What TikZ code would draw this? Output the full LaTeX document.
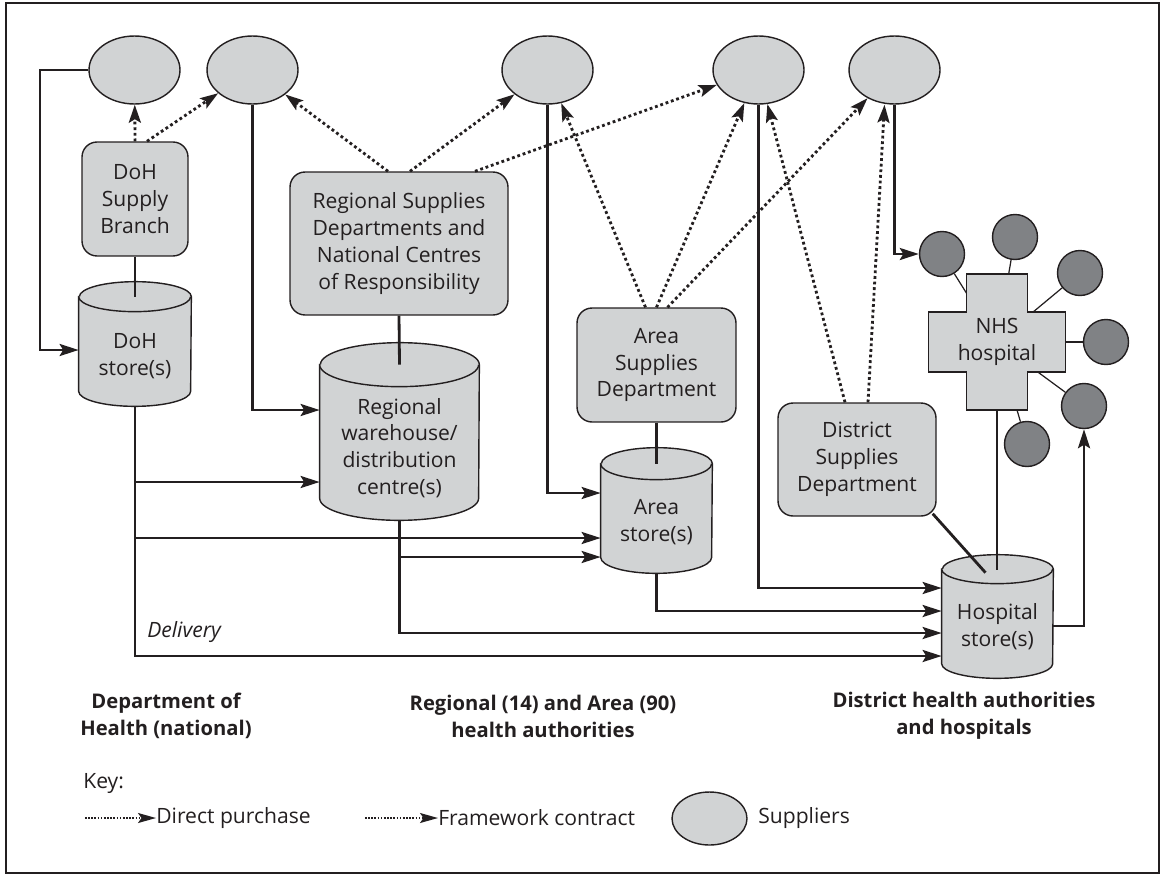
\documentclass[tikz,border=0pt]{standalone}
\usepackage{fontspec}
\setmainfont{Open Sans}
\usetikzlibrary{shapes.geometric,arrows.meta,calc,backgrounds}

\definecolor{ink}{HTML}{231F20}
\definecolor{panel}{HTML}{D1D3D4}
\definecolor{deep}{HTML}{808285}

% drum outline behind a store node: #1 node, #2 half width, #3 cap radius
\newcommand\drum[3]{%
  \filldraw[drumline] ([yshift=-#3]#1.north west) -- ([yshift=#3]#1.south west)
    arc[start angle=180, end angle=360, x radius=#2, y radius=#3]
    -- ([yshift=-#3]#1.north east)
    arc[start angle=0, end angle=180, x radius=#2, y radius=#3] -- cycle;
  \draw[drumline] ([yshift=-#3]#1.north west)
    arc[start angle=180, end angle=360, x radius=#2, y radius=#3];}

\begin{document}
\begin{tikzpicture}[x=0.02cm, y=-0.02cm,
  every node/.style={font=\fontsize{12}{15.3}\selectfont, text=ink, inner sep=0pt},
  box/.style={rounded corners=0.3cm, draw=ink, fill=panel, line width=0.8pt, align=center},
  supplier/.style={ellipse, draw=ink, fill=panel, line width=0.8pt,
    minimum width=1.82cm, minimum height=1.36cm},
  outlet/.style={circle, draw=ink, fill=deep, line width=0.8pt, minimum size=0.9cm},
  store/.style={minimum width=2.22cm, minimum height=2.48cm},
  storetext/.style={align=center, yshift=-0.24cm},
  drumline/.style={draw=ink, fill=panel, line width=0.8pt},
  plate/.style={draw=ink, fill=panel, line width=0.8pt},
  feed/.style={draw=ink, line width=1.6pt, -{Stealth[length=0.38cm, width=0.24cm, inset=0.07cm]}},
  link/.style={draw=ink, line width=1.6pt},
  buy/.style={draw=ink, line width=1.6pt, dash pattern=on 1.6pt off 1.6pt,
    -{Stealth[length=0.36cm, width=0.24cm, inset=0.07cm]}},
  keybuy/.style={draw=ink, line width=0.9pt, dash pattern=on 0.9pt off 0.9pt,
    -{Stealth[length=0.36cm, width=0.2cm, inset=0.07cm]}},
  spoke/.style={draw=ink, line width=0.7pt},
  tier/.style={align=center, font=\fontsize{11.5}{15.3}\selectfont\bfseries}]
\useasboundingbox (0,0) rectangle (1165,876);
\draw[ink, line width=0.6pt] (6,3) rectangle (1159,873);

% suppliers
\foreach \n/\x in {s1/134.5, s2/252.5, s3/547.5, s4/758.5, s5/894.5}
  \node[supplier] (\n) at (\x,70) {};

% supplies departments
\node[box, minimum width=2.12cm, minimum height=2.28cm] (branch) at (135,199) {DoH\\Supply\\Branch};
\node[box, minimum width=4.36cm, minimum height=2.86cm] (rsd) at (399,243.5)
  {Regional Supplies\\Departments and\\National Centres\\of Responsibility};
\node[box, minimum width=3.18cm, minimum height=2.28cm] (asd) at (656.5,365) {Area\\Supplies\\Department};
\node[box, minimum width=3.16cm, minimum height=2.26cm] (dsd) at (857,459.5) {District\\Supplies\\Department};

% stores
\node[store, minimum width=2.24cm, label={[storetext]center:DoH\\store(s)}] (dohstore) at (135,344) {};
\node[store, minimum width=3.18cm, minimum height=3.54cm,
  label={[storetext, yshift=-0.09cm]center:Regional\\warehouse/\\distribution\\centre(s)}] (depot) at (399.5,431.5) {};
\node[store, minimum height=2.5cm, label={[storetext]center:Area\\store(s)}] (areastore) at (656.5,510.5) {};
\node[store, minimum height=2.46cm, label={[storetext, yshift=0.03cm]center:Hospital\\store(s)}] (hospstore) at (997.5,616.5) {};

% hospital and its outlets
\node[minimum width=1.22cm, minimum height=2.72cm, align=center] (nhs) at (997,342) {NHS\\hospital};
\foreach \n/\x/\y in {c1/942/254, c2/1015/237, c3/1080/273, c4/1106/342, c5/1084/406, c6/1027/444}
  \node[outlet] (\n) at (\x,\y) {};

\begin{scope}[on background layer]
  \foreach \i in {1,...,6}
    \draw[spoke] (c\i) -- (nhs.center);
  \filldraw[plate] (nhs.center) ++(-30.5,-68) -- ++(61,0) -- ++(0,38) -- ++(38,0)
    -- ++(0,60) -- ++(-38,0) -- ++(0,38) -- ++(-61,0) -- ++(0,-38) -- ++(-38,0)
    -- ++(0,-60) -- ++(38,0) -- cycle;
  \drum{dohstore}{1.12cm}{0.3cm}
  \drum{depot}{1.59cm}{0.44cm}
  \drum{areastore}{1.11cm}{0.32cm}
  \drum{hospstore}{1.11cm}{0.29cm}
\end{scope}

% entry points on the stores
\coordinate (dep1) at ($(depot.west)+(0,-21.5)$);
\coordinate (dep2) at ($(depot.west)+(0,50.5)$);
\coordinate (are1) at ($(areastore.west)+(0,-17.5)$);
\coordinate (are2) at ($(areastore.west)+(0,27.5)$);
\coordinate (are3) at ($(areastore.west)+(0,46.5)$);
\coordinate (hos1) at ($(hospstore.west)+(0,-28.5)$);
\coordinate (hos2) at ($(hospstore.west)+(0,-5.5)$);
\coordinate (hos3) at ($(hospstore.west)+(0,16.5)$);
\coordinate (hos4) at ($(hospstore.west)+(0,39.5)$);

% deliveries
\draw[feed] (s1.west) -- (40,70) |- ($(dohstore.west)+(0,6)$);
\draw[feed] (s2.south) |- (dep1);
\draw[feed] (dohstore.south) |- (hos4);
\draw[feed] (dohstore.south |- dep2) -- (dep2);
\draw[feed] (dohstore.south |- are2) -- (are2);
\draw[feed] (depot.south) |- (hos3);
\draw[feed] (depot.south |- are3) -- (are3);
\draw[feed] (s3.south) |- (are1);
\draw[feed] (areastore.south) |- (hos2);
\draw[feed] (s4.south) |- (hos1);
\draw[feed] (s5.south) |- (c1.west);
\draw[feed] ($(hospstore.east)+(0,9.5)$) -| (c5.south);

\draw[link] (branch.south) -- ($(dohstore.north)+(0,15)$);
\draw[link] (rsd.south) -- ($(depot.north)+(0,22)$);
\draw[link] (asd.south) -- ($(areastore.north)+(0,16)$);
\draw[link] (nhs.south) -- ($(hospstore.north)+(-0.5,15)$);
\draw[link] ($(dsd.south east)+(-4,-3)$) -- ($(hospstore.north)+(-12,18)$);

% purchasing
\draw[buy] (branch.north) -- (s1);
\draw[buy] ($(branch.north)+(12,0)$) -- (s2);
\draw[buy] ($(rsd.north)+(-11,0)$) -- (s2);
\draw[buy] ($(rsd.north)+(11,0)$) -- (s3);
\draw[buy] ($(rsd.north)+(76,0)$) -- (s4);
\draw[buy] ($(asd.north)+(-11,0)$) -- (s3);
\draw[buy] (asd.north) -- (s4);
\draw[buy] ($(asd.north)+(11,0)$) -- (s5);
\draw[buy] ($(dsd.north)+(-12,0)$) -- (s4);
\draw[buy] ($(dsd.north)+(11,0)$) -- ($(s5.south)+(-10,0)$);

\node[anchor=west, font=\fontsize{12}{15.3}\selectfont\itshape] (delivery) at (147,632) {Delivery};

% tiers
\node[tier] (national) at (166,716) {Department of\\Health (national)};
\node[tier] (regional) at (543,716) {Regional (14) and Area (90)\\health authorities};
\node[tier] (district) at (964,716) {District health authorities\\and hospitals};

% key
\node[anchor=west] (key) at (83,783) {Key:};
\coordinate (k1) at (85,818);
\node[anchor=west] (kdirect) at (156,818) {Direct purchase};
\draw[keybuy] (k1) -- (kdirect.west);
\coordinate (k2) at (365,818);
\node[anchor=west] (kframe) at (438,818) {Framework contract};
\draw[keybuy] (k2) -- (kframe.west);
\node[supplier, minimum width=1.5cm, minimum height=1.06cm] (ksupplier) at (709.5,818.5) {};
\node[anchor=west] (ksup) at (758,818) {Suppliers};
\end{tikzpicture}
\end{document}
